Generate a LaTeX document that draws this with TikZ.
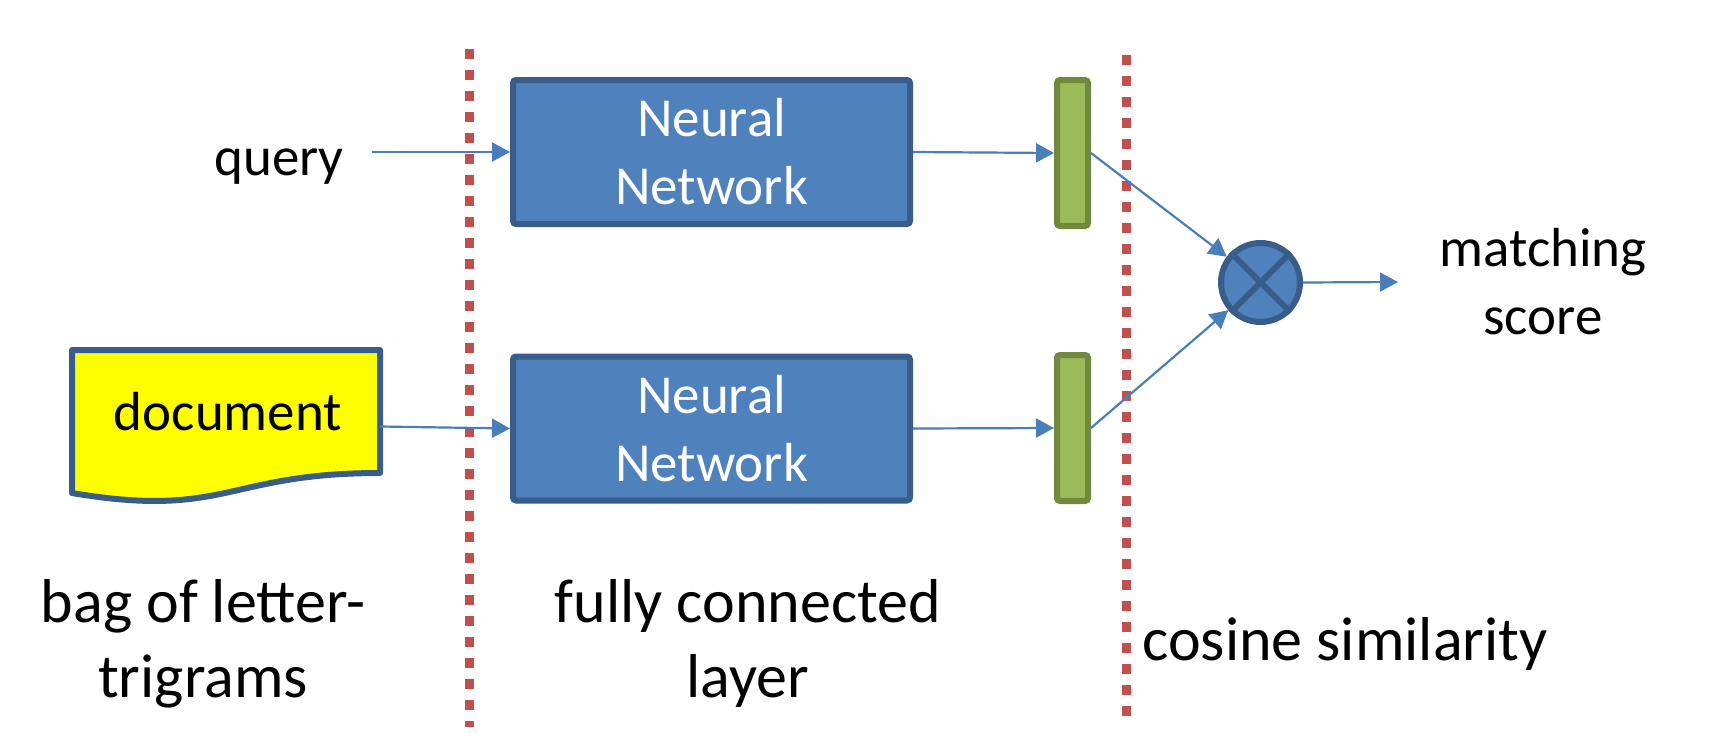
\documentclass[tikz,border=0pt]{standalone}
\usepackage{fontspec}
\setmainfont{Carlito}
\usetikzlibrary{arrows.meta,calc}
\definecolor{nnfill}{HTML}{4F81BD}
\definecolor{nnline}{HTML}{385D8A}
\definecolor{gfill}{HTML}{9BBB59}
\definecolor{gline}{HTML}{71893F}
\definecolor{dotred}{HTML}{C0504D}
\definecolor{arrcol}{HTML}{4A7EBB}
\definecolor{docfill}{HTML}{FFFF00}
\begin{document}
\begin{tikzpicture}[x=1pt,y=-1pt,
  nnbox/.style={draw=nnline, fill=nnfill, line width=6pt, rounded corners=3pt, minimum width=397pt, minimum height=144pt, text=white, align=center, font=\fontsize{55}{68}\selectfont, inner sep=0pt},
  bar/.style={draw=gline, fill=gfill, line width=6pt, rounded corners=3pt, minimum width=31pt, minimum height=146pt, inner sep=0pt},
  sepline/.style={draw=dotred, line width=9pt, dash pattern=on 10pt off 11pt},
  arr/.style={draw=arrcol, line width=2.2pt, -{Triangle[length=18pt,width=19pt]}},
  lbl/.style={font=\fontsize{55}{68}\selectfont, inner sep=0pt, align=center},
  biglbl/.style={font=\fontsize{62}{75}\selectfont, inner sep=0pt, align=center},
]
\useasboundingbox[fill=white] (0,0) rectangle (1716,750);

% separators
\coordinate (d1t) at (469,49);
\coordinate (d1b) at (469,727);
\coordinate (d2t) at (1126,55);
\coordinate (d2b) at (1126,727);
\draw[sepline] (d1t) -- (d1b);
\draw[sepline] (d2t) -- (d2b);

% document shape
\node (doc) [minimum width=308pt, minimum height=153pt, inner sep=0pt, outer sep=0pt, anchor=north west] at (72,350) {};
\draw[draw=nnline, fill=docfill, line width=6pt, line join=round]
  (doc.north west) -- (doc.north east) -- ($(doc.north east)+(0,123)$)
  .. controls ($(doc.north west)+(154,123)$) and ($(doc.north west)+(154,169)$) .. ($(doc.north west)+(0,143)$) -- cycle;
\node[lbl, anchor=base] (doctext) at (228,430) {document};

% neural networks
\node[nnbox] (nn1) at (711.5,152) {Neural\\Network};
\node[nnbox] (nn2) at (711.5,428.5) {Neural\\Network};

% vectors
\node[bar] (g1) at (1072.5,153) {};
\node[bar] (g2) at (1072.5,428) {};

% cosine node
\node[circle, draw=nnline, fill=nnfill, line width=6pt, minimum size=79pt, inner sep=0pt] (cs) at (1260.5,282.5) {};
\draw[nnline, line width=6pt] (cs.north east) -- (cs.south west) (cs.north west) -- (cs.south east);

% labels (base anchor = baseline of the last line)
\node[lbl, anchor=base, inner xsep=28pt] (query) at (279,175) {query};
\node[lbl, anchor=base] (match) at (1543,334) {matching\\score};
\node[biglbl, anchor=base] (bag) at (203,697) {bag of letter-\\trigrams};
\node[biglbl, anchor=base] (fcl) at (748,697) {fully connected\\layer};
\node[biglbl, anchor=base] (cos) at (1345,660) {cosine similarity};
\coordinate (out) at (1398,282);

% connectors
\draw[arr] (query.east |- nn1.west) -- (nn1.west);
\draw[arr] (doc.east) -- (nn2.west);
\draw[arr] (nn1.east) -- (g1.west);
\draw[arr] (nn2.east) -- (g2.west);
\draw[arr] (g1.east) -- (cs);
\draw[arr] (g2.east) -- (cs);
\draw[arr] (cs.east) -- (out);
\end{tikzpicture}
\end{document}
